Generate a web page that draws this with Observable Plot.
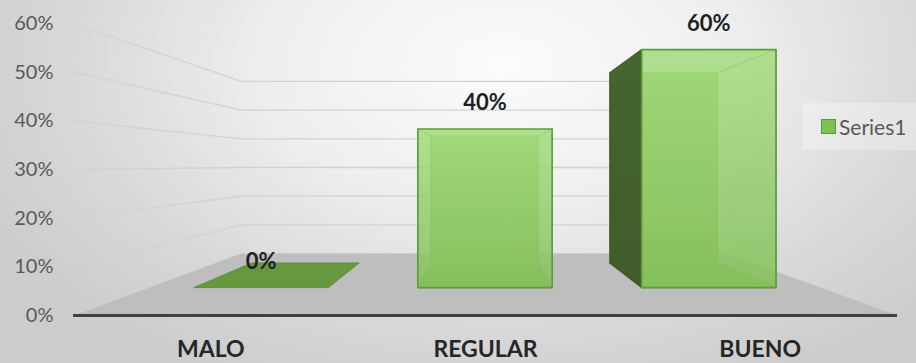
<!DOCTYPE html>
<html>
<head>
<meta charset="utf-8">
<script src="https://cdn.jsdelivr.net/npm/d3@7"></script>
<script src="https://cdn.jsdelivr.net/npm/@observablehq/plot@0.6"></script>
<style>
  html, body { margin: 0; padding: 0; }
  #wrap {
    position: relative; width: 916px; height: 363px; overflow: hidden;
    background: radial-gradient(ellipse 62% 95% at 55% 18%, #fbfbfb 0%, #efefef 40%, #d9d9d9 75%, #cdcdcd 100%);
    font-family: Lato, "Open Sans", sans-serif;
  }
  #legend {
    position: absolute; left: 803px; top: 103px; width: 120px; height: 47px;
    background: rgba(255,255,255,0.28);
    display: flex; align-items: center; box-sizing: border-box; padding-left: 18px;
    font-size: 21px; color: #595959;
  }
  #legend .sw { width: 13px; height: 13px; background: #7cc152; border: 1px solid #5a9a3a; margin-right: 3px; }
</style>
</head>
<body>
<div id="wrap"><div id="chart"></div><div id="legend"><span class="sw"></span><span id="legtxt"></span></div></div>
<script>
// ---- data ----
const categories = ["MALO", "REGULAR", "BUENO"];
const values = [0, 0.40, 0.60];
const valueLabels = ["0%", "40%", "60%"];
const yTicks = [0, 0.1, 0.2, 0.3, 0.4, 0.5, 0.6];
const seriesName = "Series1";

// ---- 3D view (perspective in data space) ----
const VP = {x: 1.49, y: 0.31};          // vanishing point, in data units
const S_AXIS = 1, S_WALL = 0.59, S_FRONT = 0.815, S_BACK = 0.652, BAR_W = 0.6;
const P = (x, v, s) => ({x: VP.x + s * (x - VP.x), y: VP.y + s * (v - VP.y)});
const poly = (pts) => [...pts, pts[0]];

document.getElementById("legtxt").textContent = seriesName;

// gridlines on left wall + back wall
const grid = yTicks.flatMap(t => [P(0, t, S_AXIS), P(0, t, S_WALL), P(categories.length, t, S_WALL)].map(p => ({...p, t})));
// floor
const floor = poly([P(0, 0, S_AXIS), P(categories.length, 0, S_AXIS), P(categories.length, 0, S_WALL), P(0, 0, S_WALL)]);

// bar faces
const faceMarks = [];
categories.forEach((c, i) => {
  const v = values[i];
  const x0 = i + 0.5 - BAR_W / 2, x1 = i + 0.5 + BAR_W / 2;
  const fr = (x, y) => P(x, y, S_FRONT), bk = (x, y) => P(x, y, S_BACK);
  if (v > 0) {
    faceMarks.push(Plot.line(poly([bk(x0, 0), bk(x1, 0), bk(x1, v), bk(x0, v)]), {x: "x", y: "y", fill: "#84c05a", stroke: "#74ad4e", strokeWidth: 1.2}));
    faceMarks.push(Plot.line(poly([fr(x0, 0), fr(x1, 0), bk(x1, 0), bk(x0, 0)]), {x: "x", y: "y", fill: "#80bb56", stroke: "#74ad4e", strokeWidth: 1.2}));
    if (x1 < VP.x) faceMarks.push(Plot.line(poly([fr(x1, 0), fr(x1, v), bk(x1, v), bk(x1, 0)]), {x: "x", y: "y", fill: "url(#gright)", stroke: "#74ad4e", strokeWidth: 1.2}));
    else faceMarks.push(Plot.line(poly([fr(x1, 0), fr(x1, v), bk(x1, v), bk(x1, 0)]), {x: "x", y: "y", fill: "none", stroke: "#74ad4e", strokeWidth: 1.2}));
    if (x0 > VP.x) faceMarks.push(Plot.line(poly([fr(x0, 0), fr(x0, v), bk(x0, v), bk(x0, 0)]), {x: "x", y: "y", fill: "url(#gside)", stroke: "#3d5a29", strokeWidth: 1.2}));
    else faceMarks.push(Plot.line(poly([fr(x0, 0), fr(x0, v), bk(x0, v), bk(x0, 0)]), {x: "x", y: "y", fill: "none", stroke: "#74ad4e", strokeWidth: 1.2}));
  }
  if (v < VP.y) {
    faceMarks.push(Plot.line(poly([fr(x0, v), fr(x1, v), bk(x1, v), bk(x0, v)]), {x: "x", y: "y", fill: v > 0 ? "#9bd373" : "#67983f", stroke: "#5e8f3c", strokeWidth: 1}));
  }
  if (v > 0) {
    faceMarks.push(Plot.line(poly([fr(x0, 0), fr(x1, 0), fr(x1, v), fr(x0, v)]), {x: "x", y: "y", fill: "url(#gfront)", fillOpacity: 0.86, stroke: "#5f9a3c", strokeWidth: 1.6}));
  }
});

const barLabels = categories.map((c, i) => ({...P(i + 0.5, values[i], S_FRONT), label: valueLabels[i]}));

const defs = () => {
  const d = d3.create("svg:defs");
  const g = d.append("linearGradient").attr("id", "gfront").attr("x1", 0).attr("y1", 0).attr("x2", 0).attr("y2", 1);
  g.append("stop").attr("offset", "0%").attr("stop-color", "#a6dc80");
  g.append("stop").attr("offset", "100%").attr("stop-color", "#86c05b");
  const s = d.append("linearGradient").attr("id", "gside").attr("x1", 0).attr("y1", 0).attr("x2", 0).attr("y2", 1);
  s.append("stop").attr("offset", "0%").attr("stop-color", "#46652f");
  s.append("stop").attr("offset", "100%").attr("stop-color", "#3f5c2a");
  const r = d.append("linearGradient").attr("id", "gright").attr("x1", 0).attr("y1", 0).attr("x2", 0).attr("y2", 1);
  r.append("stop").attr("offset", "0%").attr("stop-color", "#92cc6a");
  r.append("stop").attr("offset", "100%").attr("stop-color", "#7fb955");
  return d.node();
};

const chart = Plot.plot({
  width: 916, height: 363,
  marginLeft: 73, marginRight: 19, marginTop: 23, marginBottom: 48,
  style: {background: "transparent", fontFamily: "Lato, 'Open Sans', sans-serif", overflow: "visible"},
  x: {type: "linear", domain: [0, categories.length]},
  y: {type: "linear", domain: [0, 0.6]},
  marks: [
    defs,
    Plot.line(grid, {x: "x", y: "y", z: "t", stroke: "#d2d2d2", strokeWidth: 1.3}),
    Plot.line(floor, {x: "x", y: "y", fill: "#bebebe", stroke: "none"}),
    Plot.ruleY([0], {stroke: "#404040", strokeWidth: 3}),
    ...faceMarks,
    Plot.text(barLabels, {x: "x", y: "y", text: "label", dy: -26, fontSize: 22, fontWeight: "bold", fill: "#1f1f1f"}),
    Plot.axisY({ticks: yTicks, tickFormat: d3.format(".0%"), tickSize: 0, tickPadding: 20, fontSize: 20, fill: "#595959", label: null}),
    Plot.axisX({ticks: categories.map((c, i) => i + 0.5), tickFormat: d => categories[Math.floor(d)], tickSize: 0, tickPadding: 25, fontSize: 23, fontWeight: "bold", fill: "#262626", label: null})
  ]
});
document.getElementById("chart").appendChild(chart);
</script>
</body>
</html>
